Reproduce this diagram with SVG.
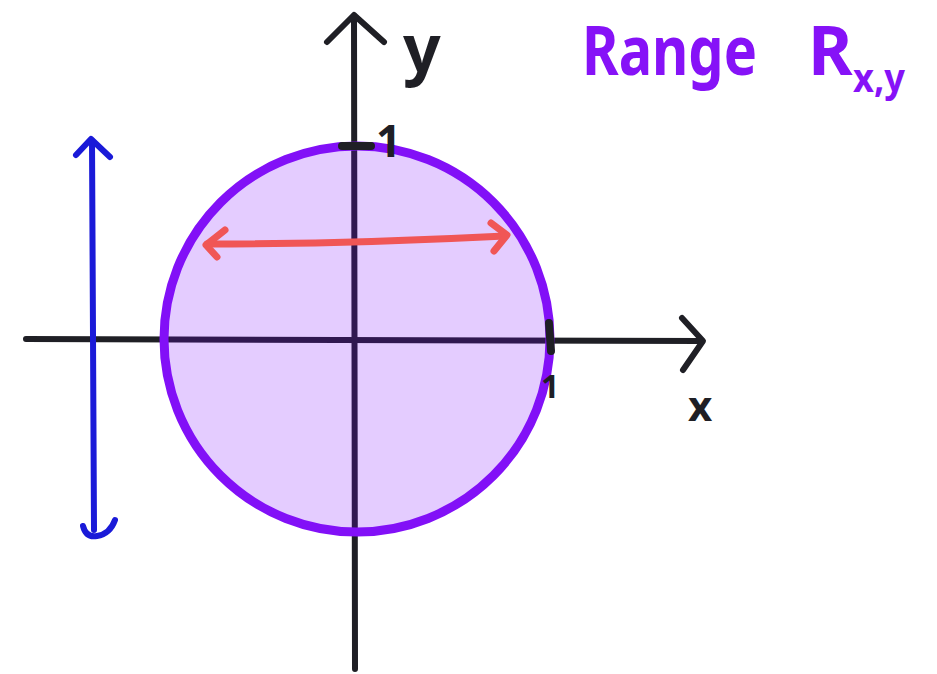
<svg xmlns="http://www.w3.org/2000/svg" width="937" height="674" viewBox="0 0 937 674">
<style>
.ax{stroke:#1f1f25;stroke-width:6;fill:none;stroke-linecap:round;stroke-linejoin:round}
.tk{stroke:#1f1f25;stroke-width:8;fill:none;stroke-linecap:round}
.lbl{font-family:"Noto Sans",sans-serif;fill:#1f1f25}
.ttl{font-family:"Noto Sans",sans-serif;fill:#8612f7;font-weight:bold}
.blue{stroke:#1a1ad8;stroke-width:6;fill:none;stroke-linecap:round;stroke-linejoin:round}
.red{stroke:#f05656;stroke-width:7;fill:none;stroke-linecap:round;stroke-linejoin:round}
</style>
<rect width="937" height="674" fill="#ffffff"/>
<g id="connectors">
<g id="y-axis"><path class="ax" d="M355 669 L354 16"/><path class="ax" d="M327 42 L354 15 L384 42"/></g>
<g id="x-axis"><path class="ax" d="M26 339 L701 341"/><path class="ax" d="M682 318 L703 341 L683 370"/></g>
</g>
<g id="region">
<circle cx="357" cy="339" r="193" fill="#7a00ff" fill-opacity="0.2" stroke="#8210f7" stroke-width="9"/>
</g>
<g id="ticks">
<path class="tk" d="M342 146 L371 146"/>
<path class="tk" d="M549 323 L551 351"/>
</g>
<g id="blue-arrow">
<path class="blue" d="M94 530 L92 141"/>
<path class="blue" d="M76 155 L91 139 L110 157"/>
<path class="blue" d="M83 526 Q86 538 97 536 Q110 534 115 520"/>
</g>
<g id="red-arrow">
<path class="red" d="M207 244 Q350 244 505 236"/>
<path class="red" d="M225 230 L206 245 L217 257"/>
<path class="red" d="M491 223 L507 235 L494 251"/>
</g>
<g id="labels">
<text class="lbl" x="403" y="72" font-size="66" font-weight="bold">y</text>
<text class="lbl" x="688" y="421" font-size="42" font-weight="bold">x</text>
<text class="lbl" x="376" y="157" font-size="44" font-weight="bold">1</text>
<text class="lbl" x="541" y="398" font-size="32" font-weight="bold">1</text>
</g>
<g id="title">
<text class="ttl" x="582" y="75" font-size="68" textLength="175" lengthAdjust="spacingAndGlyphs">Range</text>
<text class="ttl" x="808" y="75" font-size="68">R</text>
<text class="ttl" x="853" y="92" font-size="40" textLength="52" lengthAdjust="spacingAndGlyphs">x,y</text>
</g>
</svg>
